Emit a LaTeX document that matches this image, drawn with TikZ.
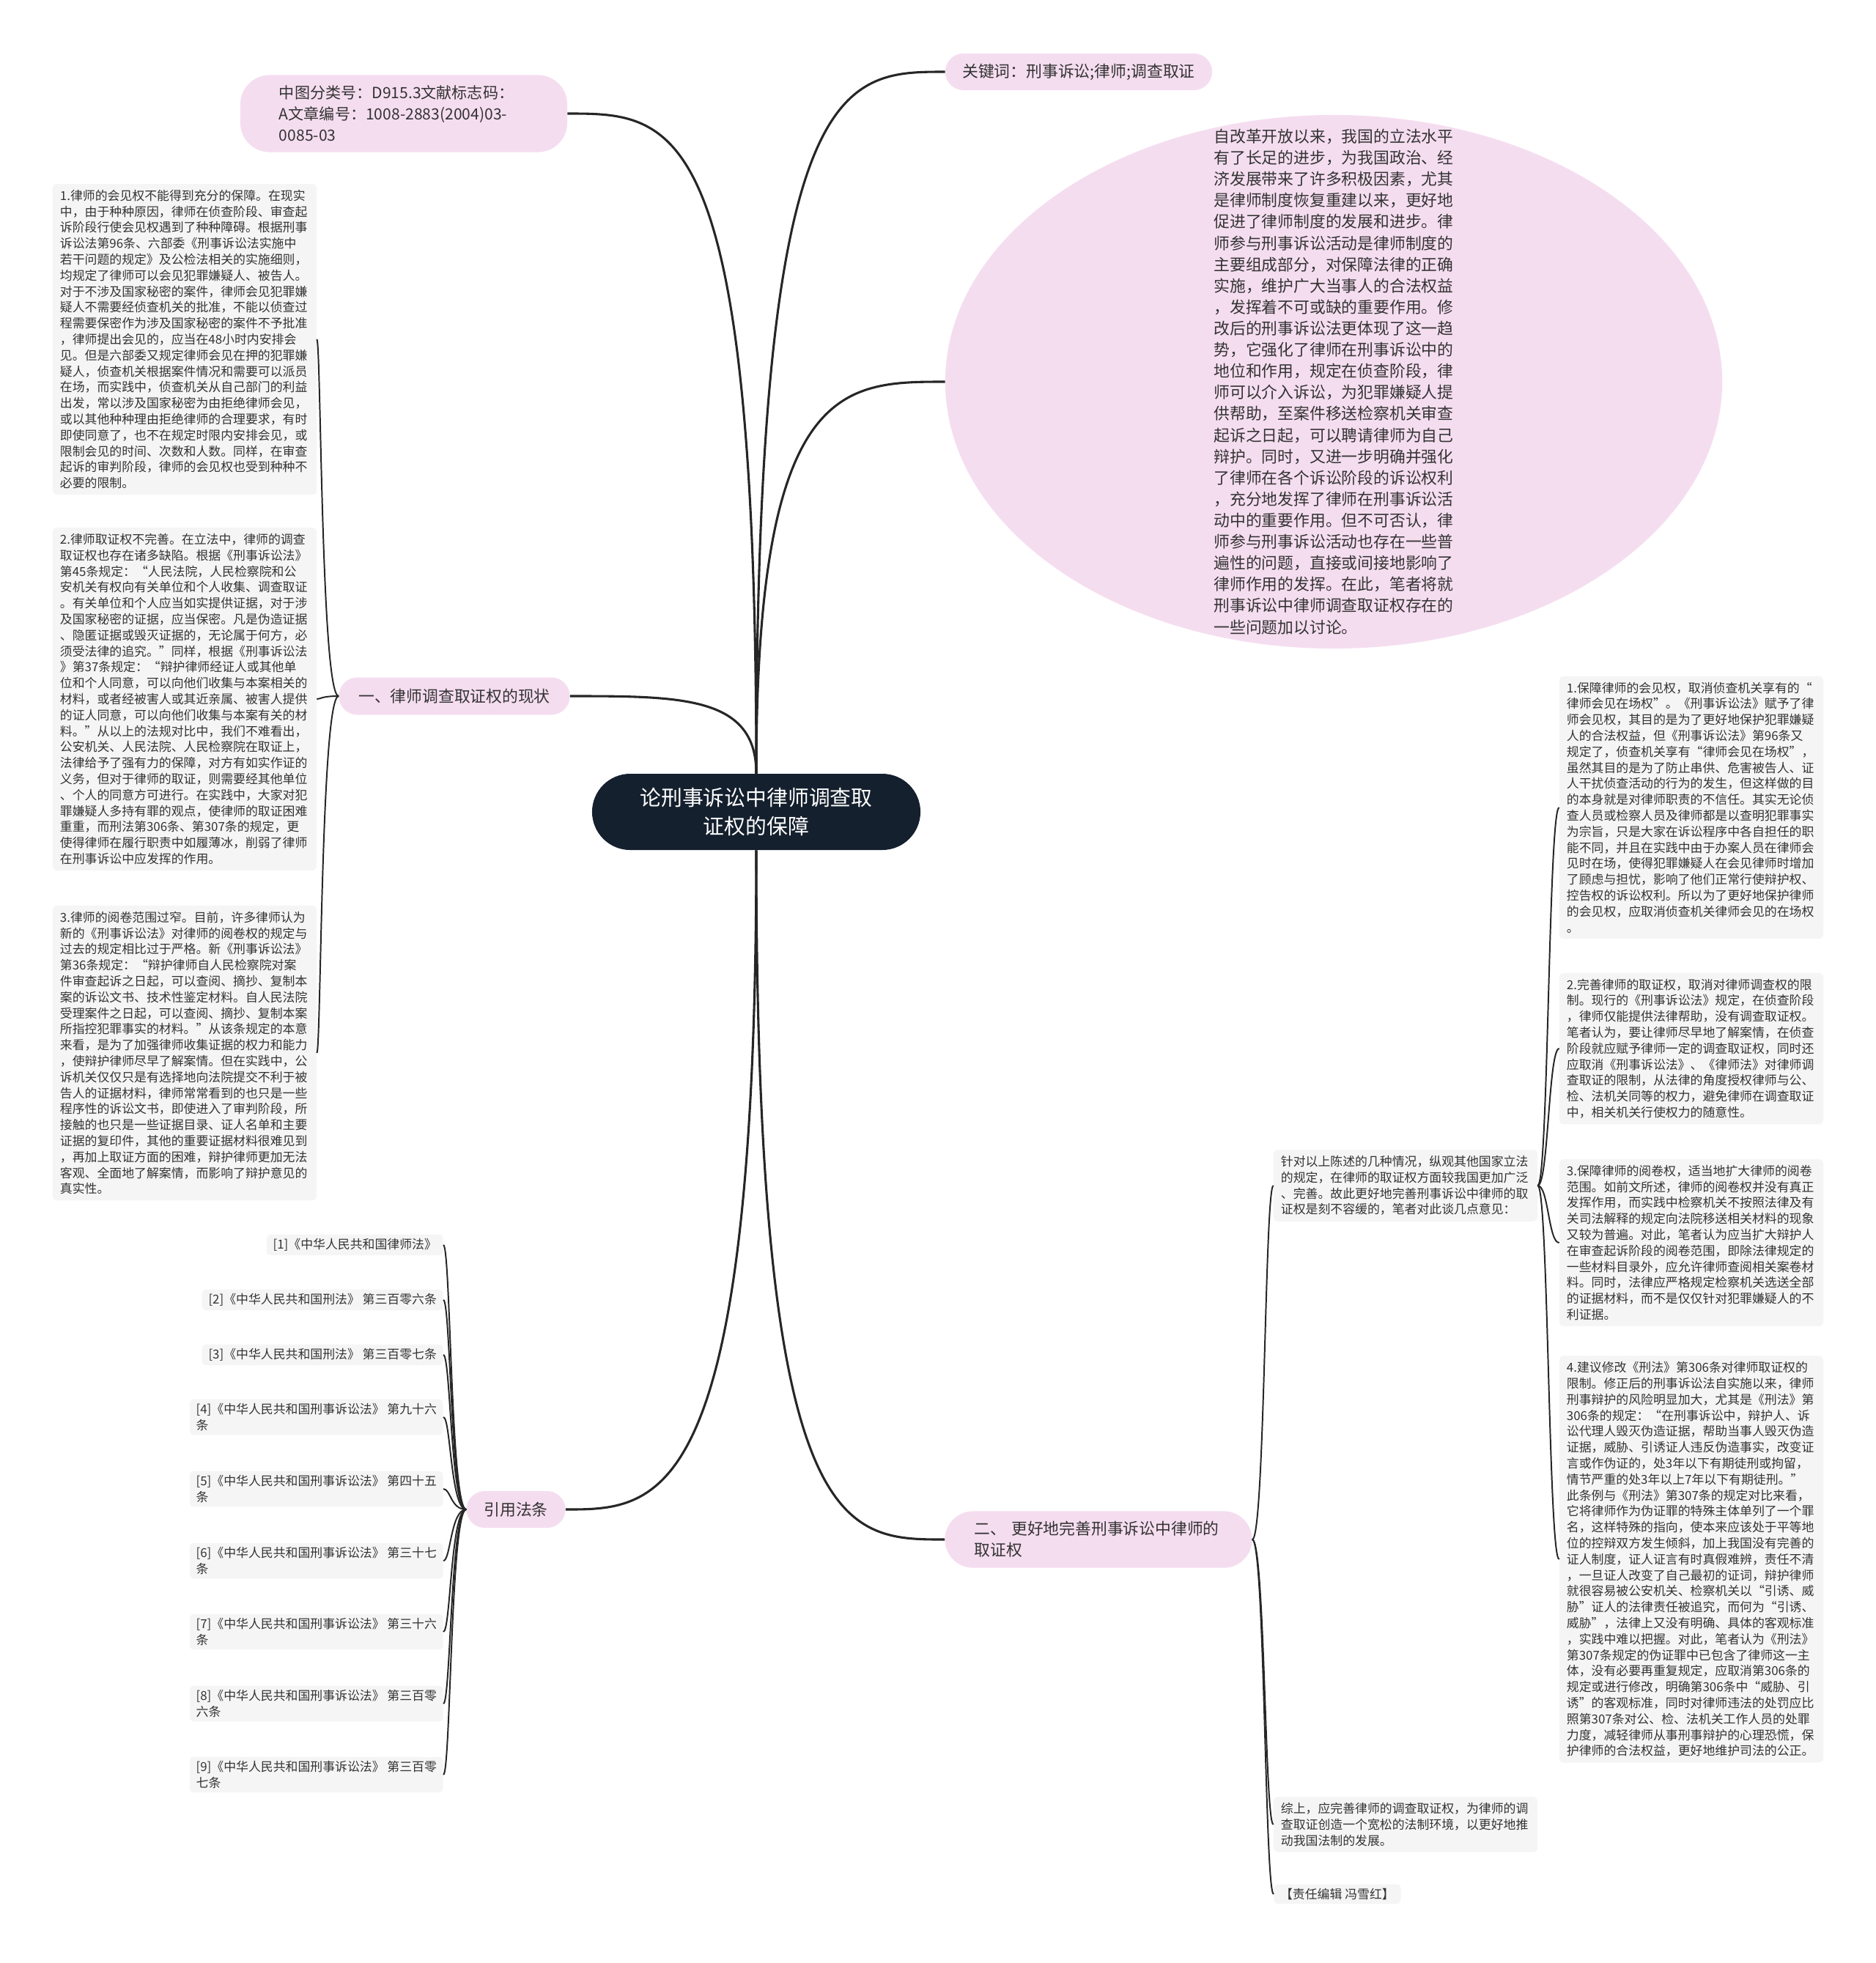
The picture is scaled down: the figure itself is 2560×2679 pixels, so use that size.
\documentclass[tikz,border=0pt]{standalone}
\usepackage{fontspec}
\setmainfont{Noto Sans CJK SC}
\usepackage{tikz}
\usetikzlibrary{shapes.geometric}
\definecolor{pinkbg}{HTML}{F5DDF0}
\definecolor{notebg}{HTML}{F5F5F5}
\definecolor{navy}{HTML}{15202E}
\definecolor{ink}{HTML}{333333}

\begin{document}
\begin{tikzpicture}[x=0.025cm, y=-0.025cm,
  root/.style={rectangle, rounded corners=1.3cm, fill=navy, text=white, align=center,
               minimum width=11.2cm, minimum height=2.6cm, font=\fontsize{20.5}{27.7}\selectfont},
  topic/.style={rectangle, fill=pinkbg, text=ink, font=\fontsize{15.5}{20.6}\selectfont},
  intro/.style={ellipse, fill=pinkbg, text=ink, align=left, minimum width=26.5cm,
                minimum height=18.2cm, inner sep=-2.3cm, font=\fontsize{15.5}{20.7}\selectfont},
  note/.style={rectangle, rounded corners=0.15cm, fill=notebg, text=ink, align=left,
               text width=8.5cm, inner xsep=0.25cm, inner ysep=0.2cm, font=\fontsize{12}{15.5}\selectfont},
  cite/.style={rectangle, rounded corners=0.15cm, fill=notebg, text=ink, align=left, anchor=east,
               inner xsep=0.22cm, inner ysep=0.14cm, font=\fontsize{12}{15.5}\selectfont},
  trunk/.style={draw=black!85, line width=2.2pt},
  e/.style={draw=black!85, line width=1.4pt},
]
\fill[white] (0,0) rectangle (2560,2679);

% centre and first level
\node[root] (root) at (1032,1108) {论刑事诉讼中律师调查取\\证权的保障};
\node[topic, rounded corners=1cm, align=left, text width=8.5cm, inner xsep=1.325cm,
      minimum height=2.63cm, font=\fontsize{15}{20.6}\selectfont] (meta) at (551,155)
  {中图分类号：D915.3文献标志码：\\A文章编号：1008-2883(2004)03-\\0085-03};
\node[topic, rounded corners=0.62cm, minimum width=9.1cm, minimum height=1.25cm] (kw) at (1472,98)
  {关键词：刑事诉讼;律师;调查取证};
\node[intro] (intro) at (1820,521) {自改革开放以来，我国的立法水平\\
有了长足的进步，为我国政治、经\\
济发展带来了许多积极因素，尤其\\
是律师制度恢复重建以来，更好地\\
促进了律师制度的发展和进步。律\\
师参与刑事诉讼活动是律师制度的\\
主要组成部分，对保障法律的正确\\
实施，维护广大当事人的合法权益\\
，发挥着不可或缺的重要作用。修\\
改后的刑事诉讼法更体现了这一趋\\
势，它强化了律师在刑事诉讼中的\\
地位和作用，规定在侦查阶段，律\\
师可以介入诉讼，为犯罪嫌疑人提\\
供帮助，至案件移送检察机关审查\\
起诉之日起，可以聘请律师为自己\\
辩护。同时，又进一步明确并强化\\
了律师在各个诉讼阶段的诉讼权利\\
，充分地发挥了律师在刑事诉讼活\\
动中的重要作用。但不可否认，律\\
师参与刑事诉讼活动也存在一些普\\
遍性的问题，直接或间接地影响了\\
律师作用的发挥。在此，笔者将就\\
刑事诉讼中律师调查取证权存在的\\
一些问题加以讨论。};
\node[topic, rounded corners=0.63cm, minimum width=7.875cm, minimum height=1.275cm] (b1) at (620,950)
  {一、律师调查取证权的现状};
\node[topic, rounded corners=0.62cm, minimum width=3.375cm, minimum height=1.25cm] (refs) at (704,2060)
  {引用法条};
\node[topic, rounded corners=0.96cm, align=left, text width=8.475cm, inner xsep=1cm,
      minimum height=1.93cm] (b2) at (1499,2101)
  {二、 更好地完善刑事诉讼中律师的\\取证权};

% 一、 children
\node[note] (L1) at (252,463) {1.律师的会见权不能得到充分的保障。在现实\\
中，由于种种原因，律师在侦查阶段、审查起\\
诉阶段行使会见权遇到了种种障碍。根据刑事\\
诉讼法第96条、六部委《刑事诉讼法实施中\\
若干问题的规定》及公检法相关的实施细则，\\
均规定了律师可以会见犯罪嫌疑人、被告人。\\
对于不涉及国家秘密的案件，律师会见犯罪嫌\\
疑人不需要经侦查机关的批准，不能以侦查过\\
程需要保密作为涉及国家秘密的案件不予批准\\
，律师提出会见的，应当在48小时内安排会\\
见。但是六部委又规定律师会见在押的犯罪嫌\\
疑人，侦查机关根据案件情况和需要可以派员\\
在场，而实践中，侦查机关从自己部门的利益\\
出发，常以涉及国家秘密为由拒绝律师会见，\\
或以其他种种理由拒绝律师的合理要求，有时\\
即使同意了，也不在规定时限内安排会见，或\\
限制会见的时间、次数和人数。同样，在审查\\
起诉的审判阶段，律师的会见权也受到种种不\\
必要的限制。};
\node[note] (L2) at (252,954) {2.律师取证权不完善。在立法中，律师的调查\\
取证权也存在诸多缺陷。根据《刑事诉讼法》\\
第45条规定：“人民法院，人民检察院和公\\
安机关有权向有关单位和个人收集、调查取证\\
。有关单位和个人应当如实提供证据，对于涉\\
及国家秘密的证据，应当保密。凡是伪造证据\\
、隐匿证据或毁灭证据的，无论属于何方，必\\
须受法律的追究。”同样，根据《刑事诉讼法\\
》第37条规定：“辩护律师经证人或其他单\\
位和个人同意，可以向他们收集与本案相关的\\
材料，或者经被害人或其近亲属、被害人提供\\
的证人同意，可以向他们收集与本案有关的材\\
料。”从以上的法规对比中，我们不难看出，\\
公安机关、人民法院、人民检察院在取证上，\\
法律给予了强有力的保障，对方有如实作证的\\
义务，但对于律师的取证，则需要经其他单位\\
、个人的同意方可进行。在实践中，大家对犯\\
罪嫌疑人多持有罪的观点，使律师的取证困难\\
重重，而刑法第306条、第307条的规定，更\\
使得律师在履行职责中如履薄冰，削弱了律师\\
在刑事诉讼中应发挥的作用。};
\node[note] (L3) at (252,1437) {3.律师的阅卷范围过窄。目前，许多律师认为\\
新的《刑事诉讼法》对律师的阅卷权的规定与\\
过去的规定相比过于严格。新《刑事诉讼法》\\
第36条规定：“辩护律师自人民检察院对案\\
件审查起诉之日起，可以查阅、摘抄、复制本\\
案的诉讼文书、技术性鉴定材料。自人民法院\\
受理案件之日起，可以查阅、摘抄、复制本案\\
所指控犯罪事实的材料。”从该条规定的本意\\
来看，是为了加强律师收集证据的权力和能力\\
，使辩护律师尽早了解案情。但在实践中，公\\
诉机关仅仅只是有选择地向法院提交不利于被\\
告人的证据材料，律师常常看到的也只是一些\\
程序性的诉讼文书，即使进入了审判阶段，所\\
接触的也只是一些证据目录、证人名单和主要\\
证据的复印件，其他的重要证据材料很难见到\\
，再加上取证方面的困难，辩护律师更加无法\\
客观、全面地了解案情，而影响了辩护意见的\\
真实性。};

% 引用法条 children
\node[cite] (c1) at (605,1699) {[1]《中华人民共和国律师法》};
\node[cite] (c2) at (605,1774) {[2]《中华人民共和国刑法》 第三百零六条};
\node[cite] (c3) at (605,1849) {[3]《中华人民共和国刑法》 第三百零七条};
\node[cite] (c4) at (605,1934) {[4]《中华人民共和国刑事诉讼法》 第九十六\\条};
\node[cite] (c5) at (605,2032) {[5]《中华人民共和国刑事诉讼法》 第四十五\\条};
\node[cite] (c6) at (605,2130) {[6]《中华人民共和国刑事诉讼法》 第三十七\\条};
\node[cite] (c7) at (605,2227) {[7]《中华人民共和国刑事诉讼法》 第三十六\\条};
\node[cite] (c8) at (605,2325) {[8]《中华人民共和国刑事诉讼法》 第三百零\\六条};
\node[cite] (c9) at (605,2422) {[9]《中华人民共和国刑事诉讼法》 第三百零\\七条};

% 二、 children
\node[note] (R0) at (1918,1618) {针对以上陈述的几种情况，纵观其他国家立法\\
的规定，在律师的取证权方面较我国更加广泛\\
、完善。故此更好地完善刑事诉讼中律师的取\\
证权是刻不容缓的，笔者对此谈几点意见：};
\node[note] (R5) at (1918,2490) {综上，应完善律师的调查取证权，为律师的调\\
查取证创造一个宽松的法制环境，以更好地推\\
动我国法制的发展。};
\node[cite, anchor=west] (editor) at (1738,2585) {【责任编辑 冯雪红】};

\node[note] (R1) at (2308,1102) {1.保障律师的会见权，取消侦查机关享有的“\\
律师会见在场权”。《刑事诉讼法》赋予了律\\
师会见权，其目的是为了更好地保护犯罪嫌疑\\
人的合法权益，但《刑事诉讼法》第96条又\\
规定了，侦查机关享有“律师会见在场权”，\\
虽然其目的是为了防止串供、危害被告人、证\\
人干扰侦查活动的行为的发生，但这样做的目\\
的本身就是对律师职责的不信任。其实无论侦\\
查人员或检察人员及律师都是以查明犯罪事实\\
为宗旨，只是大家在诉讼程序中各自担任的职\\
能不同，并且在实践中由于办案人员在律师会\\
见时在场，使得犯罪嫌疑人在会见律师时增加\\
了顾虑与担忧，影响了他们正常行使辩护权、\\
控告权的诉讼权利。所以为了更好地保护律师\\
的会见权，应取消侦查机关律师会见的在场权\\
。};
\node[note] (R2) at (2308,1431) {2.完善律师的取证权，取消对律师调查权的限\\
制。现行的《刑事诉讼法》规定，在侦查阶段\\
，律师仅能提供法律帮助，没有调查取证权。\\
笔者认为，要让律师尽早地了解案情，在侦查\\
阶段就应赋予律师一定的调查取证权，同时还\\
应取消《刑事诉讼法》、《律师法》对律师调\\
查取证的限制，从法律的角度授权律师与公、\\
检、法机关同等的权力，避免律师在调查取证\\
中，相关机关行使权力的随意性。};
\node[note] (R3) at (2308,1696) {3.保障律师的阅卷权，适当地扩大律师的阅卷\\
范围。如前文所述，律师的阅卷权并没有真正\\
发挥作用，而实践中检察机关不按照法律及有\\
关司法解释的规定向法院移送相关材料的现象\\
又较为普遍。对此，笔者认为应当扩大辩护人\\
在审查起诉阶段的阅卷范围，即除法律规定的\\
一些材料目录外，应允许律师查阅相关案卷材\\
料。同时，法律应严格规定检察机关选送全部\\
的证据材料，而不是仅仅针对犯罪嫌疑人的不\\
利证据。};
\node[note] (R4) at (2308,2128) {4.建议修改《刑法》第306条对律师取证权的\\
限制。修正后的刑事诉讼法自实施以来，律师\\
刑事辩护的风险明显加大，尤其是《刑法》第\\
306条的规定：“在刑事诉讼中，辩护人、诉\\
讼代理人毁灭伪造证据，帮助当事人毁灭伪造\\
证据，威胁、引诱证人违反伪造事实，改变证\\
言或作伪证的，处3年以下有期徒刑或拘留，\\
情节严重的处3年以上7年以下有期徒刑。”\\
此条例与《刑法》第307条的规定对比来看，\\
它将律师作为伪证罪的特殊主体单列了一个罪\\
名，这样特殊的指向，使本来应该处于平等地\\
位的控辩双方发生倾斜，加上我国没有完善的\\
证人制度，证人证言有时真假难辨，责任不清\\
，一旦证人改变了自己最初的证词，辩护律师\\
就很容易被公安机关、检察机关以“引诱、威\\
胁”证人的法律责任被追究，而何为“引诱、\\
威胁”，法律上又没有明确、具体的客观标准\\
，实践中难以把握。对此，笔者认为《刑法》\\
第307条规定的伪证罪中已包含了律师这一主\\
体，没有必要再重复规定，应取消第306条的\\
规定或进行修改，明确第306条中“威胁、引\\
诱”的客观标准，同时对律师违法的处罚应比\\
照第307条对公、检、法机关工作人员的处罪\\
力度，减轻律师从事刑事辩护的心理恐慌，保\\
护律师的合法权益，更好地维护司法的公正。};

% trunk lines from the centre
\draw[trunk] (root.north) .. controls (1032,155) and (920,155) .. (meta.east);
\draw[trunk] (root.north) .. controls (1032,98) and (1150,98) .. (kw.west);
\draw[trunk] (root.north) .. controls (1032,521) and (1150,521) .. (intro.west);
\draw[trunk] (root.north) .. controls (1032,950) and (930,950) .. (b1.east);
\draw[trunk] (root.south) .. controls (1032,2060) and (900,2060) .. (refs.east);
\draw[trunk] (root.south) .. controls (1032,2101) and (1150,2101) .. (b2.west);

% brackets to the leaves
\coordinate (s1) at (438,950);
\coordinate (s2) at (1726,2101);
\coordinate (s3) at (2113,1618);
\coordinate (s4) at (615,2060);
\foreach \n in {L1,L2,L3}
  \draw[e] (b1.west) .. controls (s1) and (s1 |- \n.east) .. (\n.east);
\foreach \i in {1,...,9}
  \draw[e] (refs.west) .. controls (s4) and (s4 |- c\i.east) .. (c\i.east);
\foreach \n in {R0,R5,editor}
  \draw[e] (b2.east) .. controls (s2) and (s2 |- \n.west) .. (\n.west);
\foreach \n in {R1,R2,R3,R4}
  \draw[e] (R0.east) .. controls (s3) and (s3 |- \n.west) .. (\n.west);
\end{tikzpicture}
\end{document}
